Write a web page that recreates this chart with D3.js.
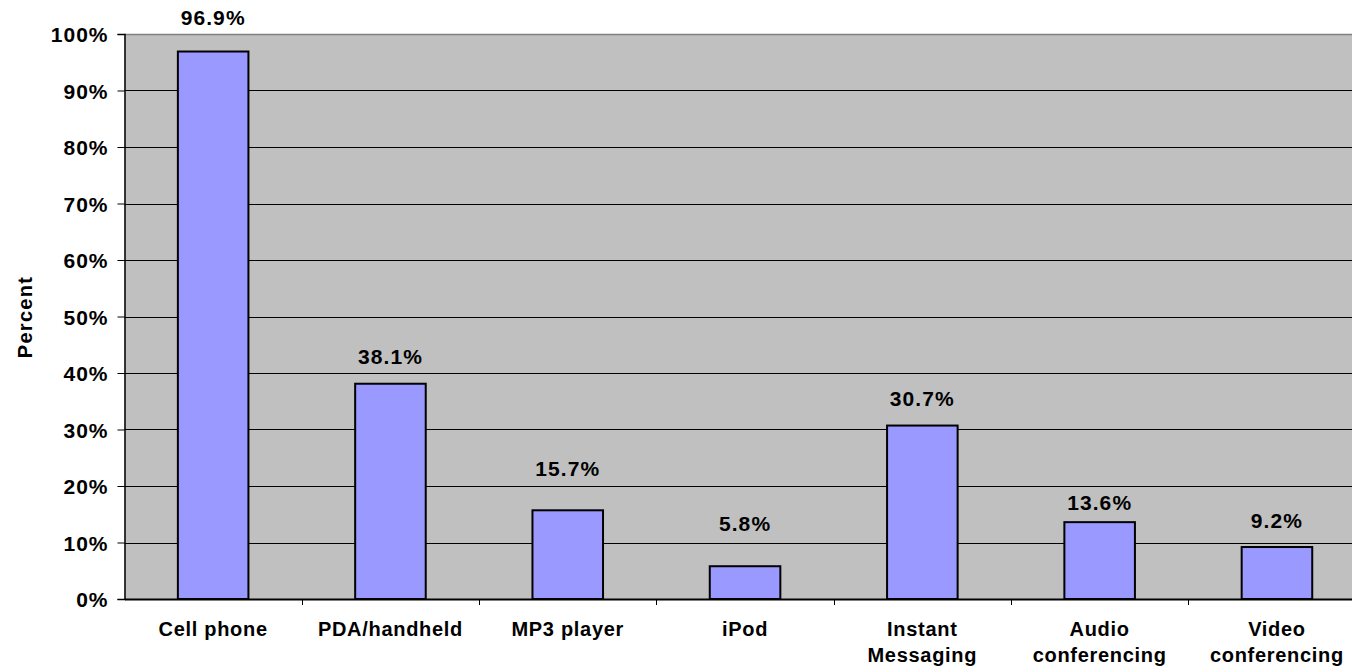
<!DOCTYPE html>
<html>
<head>
<meta charset="utf-8">
<script src="https://cdn.jsdelivr.net/npm/d3@7/dist/d3.min.js"></script>
<style>
  html, body { margin: 0; padding: 0; background: #ffffff; }
  svg { display: block; }
  text { font-family: "Liberation Sans", Arial, sans-serif; font-weight: bold; fill: #000; }
</style>
</head>
<body>
<svg id="chart" width="1352" height="672"></svg>
<script>
const categories = ["Cell phone", "PDA/handheld", "MP3 player", "iPod", "Instant\nMessaging", "Audio\nconferencing", "Video\nconferencing"];
const values = [96.9, 38.1, 15.7, 5.8, 30.7, 13.6, 9.2];
const yTicks = [0, 10, 20, 30, 40, 50, 60, 70, 80, 90, 100];
const yTitle = "Percent";
// pixel gap between bar top and value label baseline (labels hand-placed in original)
const labelGap = [26.5, 19.4, 34.3, 35, 19.4, 11.7, 19.4];

(function () {
const svg = d3.select("#chart");
const pLeft = 124.5, pTop = 34, pBottom = 599, band = 177.3;
const pRight = pLeft + band * categories.length;

const x = d3.scaleBand().domain(categories).range([pLeft, pRight]).padding(0);
const y = d3.scaleLinear().domain([0, 100]).range([pBottom, pTop]);

// plot background
svg.append("rect").attr("x", pLeft).attr("y", pTop).attr("width", pRight - pLeft).attr("height", pBottom - pTop)
  .attr("fill", "#C0C0C0");
svg.append("line").attr("x1", pLeft).attr("x2", pRight).attr("y1", pTop + 0.5).attr("y2", pTop + 0.5)
  .attr("stroke", "#808080").attr("stroke-width", 1.5);

// gridlines
svg.append("g").selectAll("line").data(yTicks.filter(d => d > 0 && d < 100)).join("line")
  .attr("x1", pLeft).attr("x2", pRight)
  .attr("y1", d => Math.round(y(d)) + 0.5).attr("y2", d => Math.round(y(d)) + 0.5)
  .attr("stroke", "#000").attr("stroke-width", 1);

// bars
const bw = x.bandwidth() * 0.398;
svg.append("g").selectAll("rect").data(values).join("rect")
  .attr("x", (d, i) => x(categories[i]) + (x.bandwidth() - bw) / 2)
  .attr("y", d => y(d))
  .attr("width", bw)
  .attr("height", d => y(0) - y(d))
  .attr("fill", "#9999FF").attr("stroke", "#000").attr("stroke-width", 2);

// y axis
const yAxis = d3.axisLeft(y).tickValues(yTicks).tickFormat(d => d + "%").tickSize(7).tickPadding(9);
const gy = svg.append("g").attr("transform", `translate(${pLeft},0)`).call(yAxis);
gy.select(".domain").attr("stroke", "#000").attr("stroke-width", 1.5);
gy.selectAll(".tick line").attr("stroke", "#000");
gy.selectAll(".tick text").attr("font-size", 21).attr("font-family", '"Liberation Sans", Arial, sans-serif')
  .attr("font-weight", "bold").style("letter-spacing", "1px").attr("dy", "0.36em");

// x axis
const xAxis = d3.axisBottom(x).tickSize(0).tickFormat("");
const gx = svg.append("g").attr("transform", `translate(0,${pBottom})`).call(xAxis);
gx.select(".domain").attr("stroke", "#000").attr("stroke-width", 2);
gx.selectAll(".tick").remove();
svg.append("g").selectAll("line").data(categories.slice(1)).join("line")
  .attr("x1", d => Math.round(x(d)) + 0.5).attr("x2", d => Math.round(x(d)) + 0.5)
  .attr("y1", pBottom).attr("y2", pBottom + 6).attr("stroke", "#000");

// category labels
const cl = svg.append("g").selectAll("text").data(categories).join("text")
  .attr("x", d => x(d) + x.bandwidth() / 2)
  .attr("y", 636)
  .attr("text-anchor", "middle")
  .attr("font-size", 20)
  .style("letter-spacing", "0.7px");
cl.each(function(d) {
  const lines = d.split("\n");
  d3.select(this).selectAll("tspan").data(lines).join("tspan")
    .attr("x", x(d) + x.bandwidth() / 2)
    .attr("dy", (l, i) => i === 0 ? 0 : 26)
    .text(l => l);
});

// value labels
svg.append("g").selectAll("text").data(values).join("text")
  .attr("x", (d, i) => x(categories[i]) + x.bandwidth() / 2)
  .attr("y", (d, i) => y(d) - labelGap[i])
  .attr("text-anchor", "middle")
  .attr("font-size", 21)
  .style("letter-spacing", "1.1px")
  .text(d => d.toFixed(1) + "%");

// y title
svg.append("text")
  .attr("transform", `translate(32,317) rotate(-90)`)
  .attr("text-anchor", "middle")
  .attr("font-size", 20)
  .style("letter-spacing", "1.3px")
  .text(yTitle);
})();
</script>
</body>
</html>
